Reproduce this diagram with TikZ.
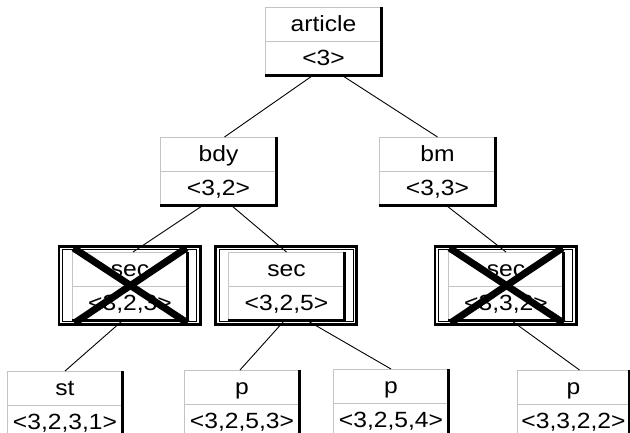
\documentclass[tikz,border=0pt]{standalone}
\usepackage{fontspec}
\setmainfont{Liberation Sans}[FakeStretch=1.12]
\usetikzlibrary{shapes.multipart}

\definecolor{boxgray}{HTML}{C4C4C4}

% one half of a record box: fixed width, fixed strut height
\newlength\cellw
\setlength\cellw{110pt}
\newcommand\cell[1]{\makebox[\cellw]{\rule[-9pt]{0pt}{32pt}#1}}

\tikzset{
  rec/.style={rectangle split, rectangle split parts=2, draw=boxgray,
    line width=1pt, inner xsep=3pt, inner ysep=0.5pt, anchor=north,
    font=\fontsize{22}{25}\selectfont},
  edge/.style={draw=black, line width=0.9pt},
  shadowline/.style={black, line width=3pt},
  frameout/.style={black, line width=2.8pt},
  framein/.style={black, line width=1pt},
  crossline/.style={black, line width=7pt},
}

\begin{document}
\begin{tikzpicture}[x=1pt, y=-1pt]
\useasboundingbox (0,0) rectangle (630,432);
\fill[white] (0,0) rectangle (630,432);
\clip (0,0) rectangle (630,432);

% record boxes
\node[rec] (art) at (323.5,7)   {\cell{article}\nodepart{two}\cell{<3>}};
\node[rec] (bdy) at (218.5,137) {\cell{bdy}\nodepart{two}\cell{<3,2>}};
\node[rec] (bm)  at (437.5,137) {\cell{bm}\nodepart{two}\cell{<3,3>}};
\node[rec] (s1)  at (130,252)   {\cell{sec}\nodepart{two}\cell{<3,2,3>}};
\node[rec] (s2)  at (286.5,252) {\cell{sec}\nodepart{two}\cell{<3,2,5>}};
\node[rec] (s3)  at (506,252)   {\cell{sec}\nodepart{two}\cell{<3,3,2>}};
\node[rec] (st)  at (65,371)    {\cell{st}\nodepart{two}\cell{<3,2,3,1>}};
\node[rec] (p1)  at (242,370)   {\cell{p}\nodepart{two}\cell{<3,2,5,3>}};
\node[rec] (p2)  at (391,369)   {\cell{p}\nodepart{two}\cell{<3,2,5,4>}};
\setlength\cellw{107pt}
\node[rec] (p3)  at (573.5,370) {\cell{p}\nodepart{two}\cell{<3,3,2,2>}};

% tree connectors
\draw[edge] ([xshift=-11.5pt]art.south) -- ([xshift=6pt]bdy.north);
\draw[edge] ([xshift=19.5pt]art.south) -- (bm.north);
\draw[edge] ([xshift=-16.5pt]bdy.south) -- ([xshift=3pt]s1.north);
\draw[edge] ([xshift=13.5pt]bdy.south) -- (s2.north);
\draw[edge] ([xshift=9.5pt]bm.south) -- (s3.north);
\draw[edge] ([xshift=-8pt]s1.south) -- (st.north);
\draw[edge] ([xshift=-2.5pt]s2.south) -- ([xshift=-2pt]p1.north);
\draw[edge] ([xshift=21.5pt]s2.south) -- (p2.north);
\draw[edge] ([xshift=6pt]s3.south) -- ([xshift=6pt]p3.north);

% raised edge on the right and bottom of each box
\foreach \n in {art,bdy,bm,s1,s2,s3,st,p1,p2,p3}
  \draw[shadowline] ([xshift=-1pt]\n.north east)
    -- ([xshift=-1pt,yshift=1pt]\n.south east)
    -- ([yshift=1pt]\n.south west);

% double selection frame around the section boxes
\foreach \n in {s1,s2,s3} {
  \draw[frameout] ([xshift=-12.6pt,yshift=5.6pt]\n.north west)
    rectangle ([xshift=11.6pt,yshift=-3.6pt]\n.south east);
  \draw[framein] ([xshift=-9pt,yshift=2.5pt]\n.north west)
    rectangle ([xshift=8pt,yshift=-0.5pt]\n.south east);
}

% removed sections are crossed out
\foreach \n in {s1,s3} {
  \draw[crossline] ([xshift=2pt,yshift=4pt]\n.north west)
    -- ([xshift=-1pt,yshift=-2pt]\n.south east);
  \draw[crossline] ([xshift=-2pt,yshift=4pt]\n.north east)
    -- ([xshift=3pt,yshift=-2pt]\n.south west);
}
\end{tikzpicture}
\end{document}
